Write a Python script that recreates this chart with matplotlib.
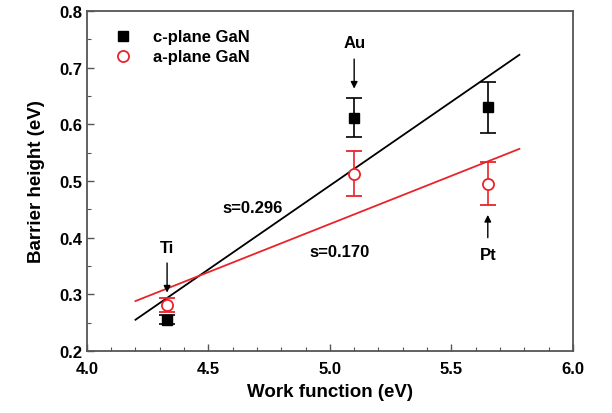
import numpy as np
import matplotlib.pyplot as plt
from matplotlib.ticker import MultipleLocator
from matplotlib.lines import Line2D

plt.rcParams['font.family'] = ['Liberation Sans', 'DejaVu Sans']
plt.rcParams['font.weight'] = 'bold'

# Data
metals = ['Ti', 'Au', 'Pt']
work_fn = [4.33, 5.10, 5.65]
c_plane = [0.255, 0.612, 0.630]
c_err_lo = [0.008, 0.035, 0.045]
c_err_hi = [0.008, 0.035, 0.045]
a_plane = [0.281, 0.512, 0.495]
a_err_lo = [0.012, 0.038, 0.037]
a_err_hi = [0.012, 0.040, 0.038]

# Linear fits (slope, value at x=4.2)
fit_x = [4.2, 5.78]
c_slope, c_y0 = 0.296, 0.255
a_slope, a_y0 = 0.170, 0.288

RED = '#e8242b'
GREY = '#555555'

fig = plt.figure(figsize=(6.12, 4.14), dpi=100)
ax = fig.add_axes([0.142, 0.150, 0.794, 0.821])

fx = np.array(fit_x)
ax.plot(fx, c_y0 + c_slope * (fx - 4.2), color='black', lw=1.3)
ax.plot(fx, a_y0 + a_slope * (fx - 4.2), color=RED, lw=1.3)

ax.errorbar(work_fn, c_plane, yerr=[c_err_lo, c_err_hi], fmt='s', color='black',
            ms=7, capsize=6, elinewidth=1.2, capthick=1.2)
ax.errorbar(work_fn, a_plane, yerr=[a_err_lo, a_err_hi], fmt='o', color=RED,
            mfc='white', mec=RED, mew=1.3, ms=8, capsize=6, elinewidth=1.2,
            capthick=1.2)

ax.text(4.683, 0.454, 's=0.296', fontsize=12, fontweight='bold', ha='center', va='center')
ax.text(5.04, 0.375, 's=0.170', fontsize=12, fontweight='bold', ha='center', va='center')

arrow = dict(arrowstyle='-|>', color='black', lw=1.0, mutation_scale=10)
ax.annotate('', xy=(5.10, 0.658), xytext=(5.10, 0.720), arrowprops=arrow)
ax.text(5.10, 0.745, 'Au', fontsize=12, fontweight='bold', ha='center', va='center')
ax.annotate('', xy=(4.33, 0.298), xytext=(4.33, 0.360), arrowprops=arrow)
ax.text(4.33, 0.383, 'Ti', fontsize=12, fontweight='bold', ha='center', va='center')
ax.annotate('', xy=(5.65, 0.445), xytext=(5.65, 0.395), arrowprops=arrow)
ax.text(5.65, 0.370, 'Pt', fontsize=12, fontweight='bold', ha='center', va='center')

ax.set_xlim(4.0, 6.0)
ax.set_ylim(0.2, 0.8)
ax.xaxis.set_major_locator(MultipleLocator(0.5))
ax.xaxis.set_minor_locator(MultipleLocator(0.1))
ax.yaxis.set_major_locator(MultipleLocator(0.1))
ax.yaxis.set_minor_locator(MultipleLocator(0.05))
ax.tick_params(which='both', direction='in', top=False, right=False,
               labelsize=12, color=GREY)
ax.tick_params(which='major', length=5, width=1.0)
ax.tick_params(axis='x', which='major', pad=7)
ax.tick_params(which='minor', length=3, width=0.8)
ax.set_xticks([4.0, 4.5, 5.0, 5.5, 6.0])
ax.set_xticklabels(['4.0', '4.5', '5.0', '5.5', '6.0'], fontweight='bold')
for lab in ax.get_yticklabels():
    lab.set_fontweight('bold')
for sp in ax.spines.values():
    sp.set_color(GREY)
    sp.set_linewidth(1.3)

ax.set_xlabel('Work function (eV)', fontsize=13.5, fontweight='bold', labelpad=5)
ax.set_ylabel('Barrier height (eV)', fontsize=13.5, fontweight='bold', labelpad=10)

h1 = Line2D([], [], marker='s', ls='none', color='black', ms=7)
h2 = Line2D([], [], marker='o', ls='none', mfc='white', mec=RED, mew=1.3, ms=8)
ax.legend([h1, h2], ['c-plane GaN', 'a-plane GaN'], loc='upper left',
          bbox_to_anchor=(0.01, 0.99), frameon=False,
          handletextpad=0.8, labelspacing=0.3, prop={'weight': 'bold', 'size': 12})

fig.savefig('out.png', dpi=100)
